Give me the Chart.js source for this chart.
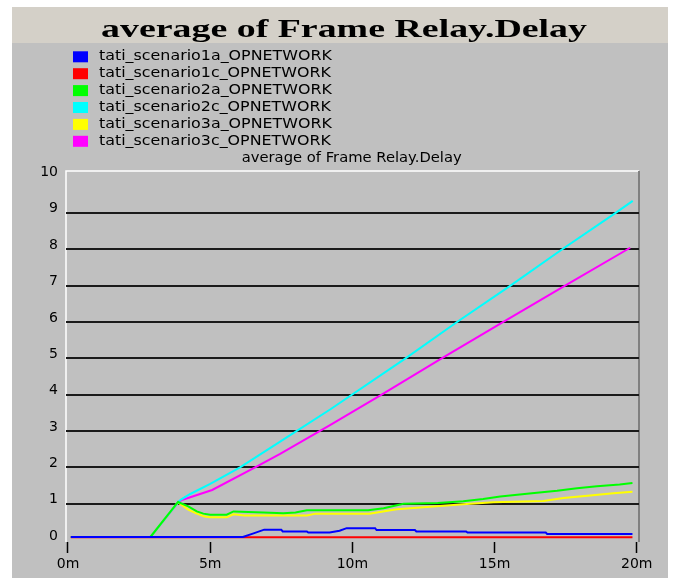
<!DOCTYPE html>
<html>
<head>
<meta charset="utf-8">
<script src="https://cdn.jsdelivr.net/npm/chart.js@4.4.1/dist/chart.umd.min.js"></script>
<style>
  html, body { margin: 0; padding: 0; background: #fff; }
  canvas { display: block; }
</style>
</head>
<body>
<canvas id="delayChart" width="675" height="578"></canvas>
<script>
const chartTitle = 'average of Frame Relay.Delay';
const seriesNames = [
    'tati_scenario1a_OPNETWORK',
    'tati_scenario1c_OPNETWORK',
    'tati_scenario2a_OPNETWORK',
    'tati_scenario2c_OPNETWORK',
    'tati_scenario3a_OPNETWORK',
    'tati_scenario3c_OPNETWORK'
];
const seriesColors = ['#0000ff', '#ff0000', '#00ff00', '#00ffff', '#ffff00', '#ff00ff'];
const xTickValues = [0, 5, 10, 15, 20];
const yTickValues = [0, 1, 2, 3, 4, 5, 6, 7, 8, 9, 10];

// time in minutes, delay in seconds
const time1a = [0.1, 6.15, 6.5, 6.9, 7.5, 7.55, 8.4, 8.45, 9.2, 9.55, 9.8, 10.8, 10.85, 12.2, 12.25, 14.0, 14.05, 16.8, 16.85, 19.85];
const delay1a = [0.09, 0.09, 0.18, 0.29, 0.29, 0.24, 0.24, 0.21, 0.21, 0.26, 0.33, 0.33, 0.28, 0.28, 0.24, 0.24, 0.21, 0.21, 0.17, 0.17];

const time1c = [0.1, 19.85];
const delay1c = [0.08, 0.08];

const time2a = [0.1, 2.9, 3.87, 4.23, 4.53, 4.76, 5.0, 5.58, 5.82, 6.87, 7.57, 8.0, 8.4, 9.92, 10.56, 11.1, 11.8, 13.0, 13.9, 14.6, 15.2, 15.8, 16.4, 17.2, 17.9, 18.6, 19.4, 19.85];
const delay2a = [0.09, 0.09, 1.05, 0.93, 0.79, 0.73, 0.70, 0.70, 0.79, 0.76, 0.74, 0.76, 0.82, 0.82, 0.82, 0.88, 1.0, 1.02, 1.07, 1.13, 1.2, 1.25, 1.3, 1.36, 1.43, 1.48, 1.53, 1.57];

const time2c = [0.1, 2.9, 3.9, 4.0, 4.3, 5.0, 6.05, 7.46, 9.23, 11.87, 13.68, 15.56, 17.38, 19.26, 19.86];
const delay2c = [0.09, 0.09, 1.07, 1.13, 1.27, 1.55, 2.0, 2.71, 3.6, 5.0, 6.0, 7.0, 8.0, 9.0, 9.33];

const time3a = [0.1, 2.9, 3.87, 4.23, 4.53, 4.8, 5.0, 5.58, 5.82, 6.2, 8.4, 8.7, 10.6, 11.56, 12.73, 13.9, 14.96, 16.72, 17.42, 18.36, 19.18, 19.85];
const delay3a = [0.09, 0.09, 1.04, 0.84, 0.73, 0.65, 0.63, 0.63, 0.71, 0.68, 0.68, 0.73, 0.73, 0.85, 0.92, 0.99, 1.04, 1.08, 1.16, 1.23, 1.29, 1.33];

const time3c = [0.1, 2.9, 3.9, 4.0, 4.3, 5.07, 6.58, 7.46, 9.23, 11.03, 13.14, 15.31, 17.48, 19.77];
const delay3c = [0.09, 0.09, 1.06, 1.1, 1.18, 1.38, 2.0, 2.37, 3.17, 4.0, 5.0, 6.0, 7.0, 8.04];

const seriesData = [
    [time1a, delay1a],
    [time1c, delay1c],
    [time2a, delay2a],
    [time2c, delay2c],
    [time3a, delay3a],
    [time3c, delay3c]
];

// draws the grey panel, title, legend and the subtitle (OPNET style)
const panelPlugin = {
    id: 'panel',
    beforeDraw(chart) {
        const ctx = chart.ctx;
        const area = chart.chartArea;
        ctx.save();
        ctx.fillStyle = '#ffffff';
        ctx.fillRect(0, 0, chart.width, chart.height);
        ctx.fillStyle = '#c0c0c0';
        ctx.fillRect(12, 7, 656, chart.height - 7);
        ctx.fillStyle = '#d4d0c8';
        ctx.fillRect(12, 7, 656, 36);

        // big title, stretched like the original
        ctx.fillStyle = '#000';
        ctx.font = 'bold 26px "Liberation Serif"';
        ctx.textBaseline = 'alphabetic';
        ctx.textAlign = 'center';
        let w = ctx.measureText(chartTitle).width;
        ctx.save();
        ctx.translate(344, 36.5);
        ctx.scale(486 / w, 1);
        ctx.fillText(chartTitle, 0, 0);
        ctx.restore();

        // legend
        ctx.font = '14px "DejaVu Sans"';
        ctx.textAlign = 'left';
        ctx.textBaseline = 'middle';
        const sx = 233 / ctx.measureText(seriesNames[0]).width;
        seriesNames.forEach((name, i) => {
            const cy = 56.8 + i * 16.9;
            ctx.fillStyle = seriesColors[i];
            ctx.fillRect(73, cy - 5.5, 15, 11);
            ctx.fillStyle = '#000';
            ctx.save();
            ctx.translate(99, cy);
            ctx.scale(sx, 1);
            ctx.fillText(name, 0, 0);
            ctx.restore();
        });

        // subtitle above the plot
        ctx.textAlign = 'center';
        w = ctx.measureText(chartTitle).width;
        ctx.save();
        ctx.translate(351.7, 158.3);
        ctx.scale(220 / w, 1);
        ctx.fillText(chartTitle, 0, 0);
        ctx.restore();

        // plot frame
        ctx.lineWidth = 1.5;
        ctx.strokeStyle = '#ffffff';
        ctx.beginPath();
        ctx.moveTo(area.left, area.bottom);
        ctx.lineTo(area.left, area.top);
        ctx.lineTo(area.right, area.top);
        ctx.stroke();
        ctx.strokeStyle = '#808080';
        ctx.lineWidth = 2;
        ctx.beginPath();
        ctx.moveTo(area.right, area.top);
        ctx.lineTo(area.right, area.bottom);
        ctx.stroke();
        ctx.restore();
    }
};

const ctx = document.getElementById('delayChart').getContext('2d');
new Chart(ctx, {
    type: 'line',
    data: {
        datasets: seriesData.map(([t, d], i) => ({
            label: seriesNames[i],
            data: t.map((x, j) => ({ x: x, y: d[j] })),
            borderColor: seriesColors[i],
            backgroundColor: seriesColors[i],
            borderWidth: 2,
            pointRadius: 0,
            tension: 0,
            fill: false
        }))
    },
    options: {
        responsive: false,
        animation: false,
        devicePixelRatio: 1,
        layout: { padding: { left: 12, top: 171, right: 36, bottom: 0 } },
        plugins: {
            legend: { display: false },
            title: { display: false },
            tooltip: { enabled: false }
        },
        scales: {
            x: {
                type: 'linear',
                min: -0.07,
                max: 20.08,
                afterBuildTicks: (scale) => {
                    scale.ticks = xTickValues.map(v => ({ value: v }));
                },
                afterFit: (scale) => { scale.height = 36; },
                border: { display: false },
                grid: {
                    drawOnChartArea: false,
                    drawTicks: true,
                    tickLength: 11,
                    tickColor: '#000',
                    tickWidth: 1.5
                },
                ticks: {
                    color: '#000',
                    padding: 3,
                    maxRotation: 0,
                    font: { family: 'DejaVu Sans', size: 14 },
                    callback: (v) => v + 'm'
                }
            },
            y: {
                min: -0.05,
                max: 10.15,
                afterBuildTicks: (scale) => {
                    scale.ticks = yTickValues.map(v => ({ value: v }));
                },
                afterFit: (scale) => { scale.width = 54; },
                border: { display: false },
                grid: {
                    drawTicks: false,
                    lineWidth: 2,
                    color: (c) => (c.tick && c.tick.value > 0 && c.tick.value < 10) ? '#1a1a1a' : 'rgba(0,0,0,0)'
                },
                ticks: {
                    color: '#000',
                    padding: 8,
                    labelOffset: -4,
                    font: { family: 'DejaVu Sans', size: 14 }
                }
            }
        }
    },
    plugins: [panelPlugin]
});
</script>
</body>
</html>
